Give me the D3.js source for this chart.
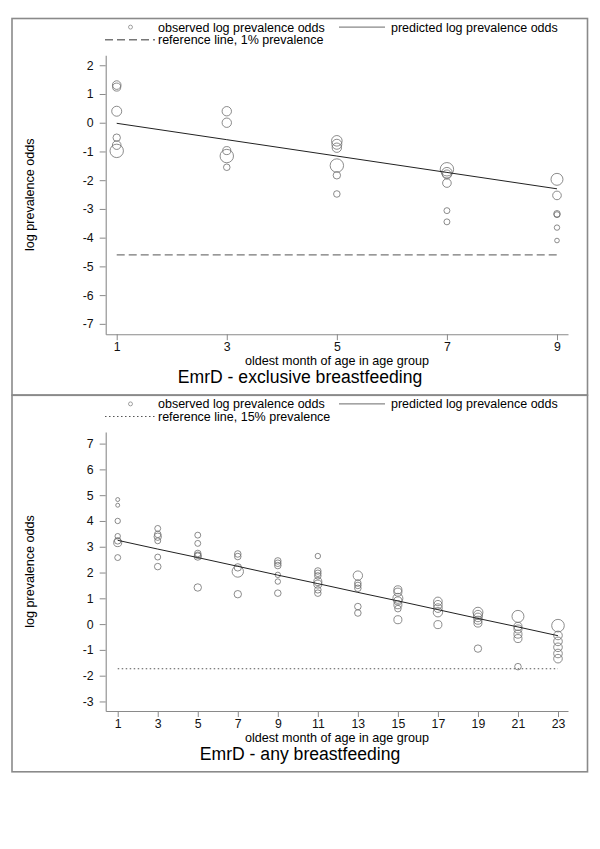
<!DOCTYPE html>
<html><head><meta charset="utf-8">
<script src="https://cdn.jsdelivr.net/npm/d3@7"></script>
<style>
body{margin:0;background:#fff}
text{font-family:"Liberation Sans",Arial,Helvetica,sans-serif}
</style>
</head><body>
<svg id="chart" width="600" height="849"></svg>
<script>
// ---------- data ----------
const exclTitle = "EmrD - exclusive breastfeeding";
const exclRefLabel = "reference line, 1% prevalence";
const exclMonths = [1, 3, 5, 7, 9];
const exclObserved = [
  [1.31, 1.24, 0.40, -0.52, -0.78, -0.98],
  [0.40, 0.00, -0.97, -1.16, -1.55],
  [-0.63, -0.75, -0.87, -1.49, -1.83, -2.48],
  [-1.62, -1.74, -1.80, -2.10, -3.06, -3.45],
  [-1.97, -2.53, -3.17, -3.20, -3.65, -4.10]
];
const exclSampleSize = [
  [380, 330, 510, 280, 380, 920],
  [450, 450, 330, 920, 220],
  [570, 510, 450, 920, 280, 220],
  [920, 570, 410, 380, 180, 180],
  [730, 380, 220, 180, 150, 110]
];
const exclPredicted = [-0.02, -0.59, -1.16, -1.73, -2.30];
const exclReference = -4.6;
const exclYTicks = [-7, -6, -5, -4, -3, -2, -1, 0, 1, 2];

const anyTitle = "EmrD - any breastfeeding";
const anyRefLabel = "reference line, 15% prevalence";
const anyMonths = [1, 3, 5, 7, 9, 11, 13, 15, 17, 19, 21, 23];
const anyObserved = [
  [4.83, 4.61, 4.00, 3.41, 3.23, 3.16, 2.58],
  [3.71, 3.48, 3.39, 3.23, 2.60, 2.23],
  [3.45, 3.13, 2.74, 2.67, 2.62, 1.42],
  [2.72, 2.62, 2.20, 2.04, 1.16],
  [2.45, 2.36, 2.27, 1.91, 1.65, 1.20],
  [2.64, 2.06, 1.97, 1.87, 1.65, 1.55, 1.33, 1.20],
  [1.88, 1.59, 1.50, 1.39, 0.68, 0.43],
  [1.33, 1.24, 1.00, 0.90, 0.75, 0.60, 0.17],
  [0.88, 0.75, 0.62, 0.46, -0.02],
  [0.46, 0.36, 0.26, 0.15, 0.04, -0.95],
  [0.30, -0.09, -0.19, -0.39, -0.56, -1.65],
  [-0.06, -0.44, -0.67, -0.90, -1.14, -1.34]
];
const anySampleSize = [
  [80, 80, 150, 150, 220, 330, 180],
  [180, 220, 280, 180, 180, 220],
  [180, 180, 220, 220, 280, 280],
  [220, 220, 280, 660, 280],
  [220, 220, 220, 150, 150, 220],
  [150, 220, 220, 220, 330, 330, 220, 220],
  [450, 220, 220, 220, 220, 220],
  [330, 330, 510, 330, 330, 220, 330],
  [380, 380, 380, 450, 330],
  [510, 410, 380, 330, 330, 280],
  [730, 330, 330, 330, 330, 220],
  [810, 380, 380, 380, 380, 380]
];
const anyPredicted = [3.25, 2.91, 2.58, 2.24, 1.90, 1.57, 1.23, 0.90, 0.56, 0.22, -0.11, -0.45];
const anyReference = -1.73;
const anyYTicks = [-3, -2, -1, 0, 1, 2, 3, 4, 5, 6, 7];

const legendObserved = "observed log prevalence odds";
const legendPredicted = "predicted log prevalence odds";
const xTitle = "oldest month of age in age group";
const yTitle = "log prevalence odds";

// ---------- drawing ----------
const svg = d3.select("#chart");
const rScale = d3.scaleSqrt().domain([0, 1000]).range([0, 7]);
const FONT = '"Liberation Sans",Arial,Helvetica,sans-serif';

function panel(cfg) {
  const g = svg.append("g").attr("transform", `translate(0,${cfg.top})`);
  const H = 376.5;
  g.append("rect").attr("x", 12).attr("y", 0).attr("width", 575.5).attr("height", H)
    .attr("fill", "none").attr("stroke", "#8a8a8a").attr("stroke-width", 1.6);

  // legend
  const r1 = 8.6, r2 = 21.2;
  g.append("circle").attr("cx", 130.5).attr("cy", r1).attr("r", rScale(80))
    .attr("fill", "none").attr("stroke", "#888").attr("stroke-width", 0.8);
  g.append("text").attr("x", 158).attr("y", r1 + 4.4).attr("font-size", 12.5).text(legendObserved);
  g.append("line").attr("x1", 339).attr("x2", 385).attr("y1", r1).attr("y2", r1)
    .attr("stroke", "#444").attr("stroke-width", 0.8);
  g.append("text").attr("x", 391).attr("y", r1 + 4.4).attr("font-size", 12.5).text(legendPredicted);
  g.append("line").attr("x1", 105).attr("x2", 155).attr("y1", r2).attr("y2", r2)
    .attr("stroke", cfg.refColor).attr("stroke-width", cfg.refWidth).attr("stroke-dasharray", cfg.dash);
  g.append("text").attr("x", 158).attr("y", r2 + 4.4).attr("font-size", 12.5).text(cfg.refLabel);

  const x = d3.scaleLinear().domain(cfg.xDomain).range([105.7, 568]);
  const y = d3.scaleLinear().domain(cfg.yDomain).range([315.7, 36.7]);

  const xa = g.append("g").attr("transform", "translate(0,315.7)")
    .call(d3.axisBottom(x).tickValues(cfg.months).tickSize(6).tickSizeOuter(0).tickPadding(2).tickFormat(d => String(d)));
  const ya = g.append("g").attr("transform", "translate(105.7,0)")
    .call(d3.axisLeft(y).tickValues(cfg.yTicks).tickSize(6).tickSizeOuter(0).tickPadding(6).tickFormat(d => String(d)));
  [xa, ya].forEach(a => {
    a.select(".domain").attr("stroke", "#8a8a8a").attr("stroke-width", 1.1);
    a.selectAll(".tick line").attr("stroke", "#8a8a8a").attr("stroke-width", 1);
    a.selectAll(".tick text").attr("font-size", 12.3).attr("fill", "#111").attr("font-family", FONT);
  });

  // reference line
  g.append("line")
    .attr("x1", x(cfg.months[0])).attr("x2", x(cfg.months[cfg.months.length - 1]))
    .attr("y1", y(cfg.ref)).attr("y2", y(cfg.ref))
    .attr("stroke", cfg.refColor).attr("stroke-width", cfg.refWidth).attr("stroke-dasharray", cfg.dash);

  // observed circles
  const pts = [];
  cfg.months.forEach((m, i) => cfg.observed[i].forEach((v, j) => pts.push({m, v, n: cfg.sizes[i][j]})));
  g.append("g").selectAll("circle").data(pts).join("circle")
    .attr("cx", d => x(d.m)).attr("cy", d => y(d.v)).attr("r", d => rScale(d.n))
    .attr("fill", "none").attr("stroke", "#6e6e6e").attr("stroke-width", 0.8);

  // predicted line
  g.append("path")
    .datum(cfg.months.map((m, i) => [m, cfg.predicted[i]]))
    .attr("d", d3.line().x(d => x(d[0])).y(d => y(d[1])))
    .attr("fill", "none").attr("stroke", "#222").attr("stroke-width", 1);

  // titles
  g.append("text").attr("x", 337).attr("y", 346.4).attr("text-anchor", "middle")
    .attr("font-size", 12.6).text(xTitle);
  g.append("text").attr("transform", `translate(34,${(36.7 + 315.7) / 2}) rotate(-90)`)
    .attr("text-anchor", "middle").attr("font-size", 12.6).text(yTitle);
  g.append("text").attr("x", 300).attr("y", 364.8).attr("text-anchor", "middle")
    .attr("font-size", 17.6).text(cfg.title);
}

panel({
  top: 18.5, title: exclTitle, refLabel: exclRefLabel, months: exclMonths,
  observed: exclObserved, sizes: exclSampleSize, predicted: exclPredicted,
  ref: exclReference, yTicks: exclYTicks, xDomain: [0.8, 9.2], yDomain: [-7.36, 2.35],
  dash: "8,4", refColor: "#777", refWidth: 1.4
});
panel({
  top: 395.3, title: anyTitle, refLabel: anyRefLabel, months: anyMonths,
  observed: anyObserved, sizes: anySampleSize, predicted: anyPredicted,
  ref: anyReference, yTicks: anyYTicks, xDomain: [0.4, 23.5], yDomain: [-3.37, 7.45],
  dash: "1.5,2.5", refColor: "#555", refWidth: 1.1
});
</script>
</body></html>
